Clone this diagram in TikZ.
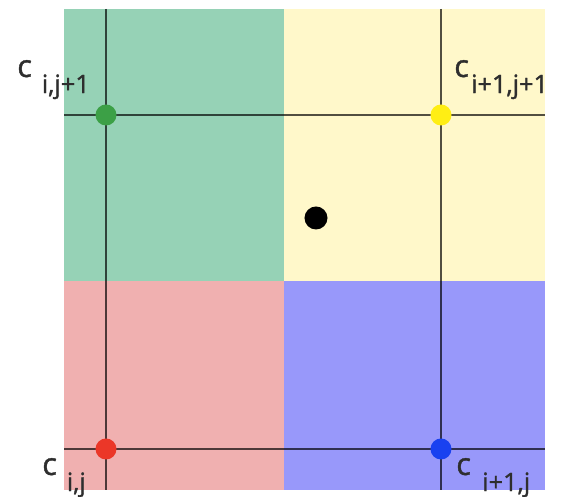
\documentclass[tikz,border=0pt]{standalone}
\usepackage{fontspec}
\setmainfont{Open Sans}
\newfontfamily\labelfont[FakeBold=1.3]{Open Sans}
\usetikzlibrary{positioning}
\definecolor{cellgreen}{RGB}{150,210,182}
\definecolor{cellyellow}{RGB}{255,248,202}
\definecolor{cellred}{RGB}{240,176,176}
\definecolor{cellblue}{RGB}{152,152,250}
\definecolor{dotgreen}{RGB}{60,160,70}
\definecolor{dotyellow}{RGB}{255,238,20}
\definecolor{dotred}{RGB}{235,55,40}
\definecolor{dotblue}{RGB}{25,65,240}
\newcommand{\cidx}[2][7pt]{{\fontsize{22}{24}\selectfont c}\hspace{#1}\raisebox{-11.4pt}{#2}}
\tikzset{
  gridline/.style={draw=black, draw opacity=0.68, line width=1.9pt},
  corner/.style={circle, inner sep=0pt, minimum size=0.525cm},
  clabel/.style={font=\labelfont\fontsize{18}{20}\selectfont, inner sep=0pt, anchor=base west, text=black!82}
}
\begin{document}
\begin{tikzpicture}[x=0.025cm, y=-0.025cm]
\useasboundingbox (0,0) rectangle (562,497);
% cells
\fill[cellgreen] (64,9) rectangle (284,281);
\fill[cellyellow] (284,9) rectangle (545,281);
\fill[cellred] (64,281) rectangle (284,490);
\fill[cellblue] (284,281) rectangle (545,490);
% grid lines
\coordinate (v1t) at (106,9);
\coordinate (v1b) at (106,490);
\coordinate (v2t) at (441,9);
\coordinate (v2b) at (441,490);
\coordinate (h1l) at (64,115);
\coordinate (h1r) at (545,115);
\coordinate (h2l) at (64,449);
\coordinate (h2r) at (545,449);
\draw[gridline] (v1t) -- (v1b);
\draw[gridline] (v2t) -- (v2b);
\draw[gridline] (h1l) -- (h1r);
\draw[gridline] (h2l) -- (h2r);
% corner values
\node[corner, fill=dotgreen] (c01) at (106,115) {};
\node[corner, fill=dotyellow] (c11) at (441,115) {};
\node[corner, fill=dotred] (c00) at (106,449) {};
\node[corner, fill=dotblue] (c10) at (441,449) {};
\node[corner, fill=black, minimum size=0.575cm] (pt) at (316,218) {};
% labels
\node[clabel] (l01) at (17,77) {\cidx{i,j+1}};
\node[clabel] (l11) at (454,77) {\cidx[1.5pt]{i+1,j+1}};
\node[clabel] (l00) at (42,475) {\cidx{i,j}};
\node[clabel] (l10) at (456,475) {\cidx[8pt]{i+1,j}};
\end{tikzpicture}
\end{document}
